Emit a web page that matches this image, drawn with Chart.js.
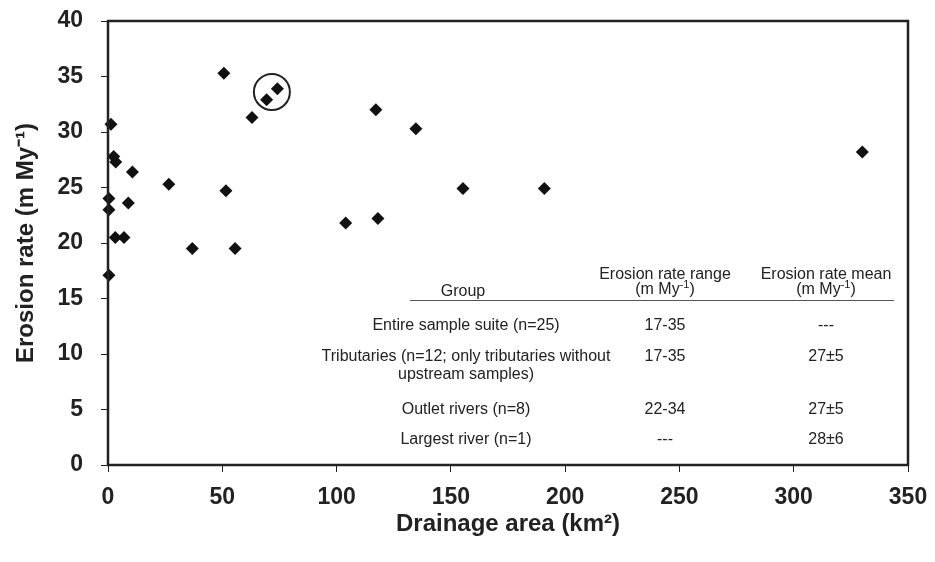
<!DOCTYPE html>
<html>
<head>
<meta charset="utf-8">
<script src="https://cdn.jsdelivr.net/npm/chart.js@4.4.1/dist/chart.umd.min.js"></script>
<style>
  body { margin: 0; background: #fff; }
  #wrap { width: 935px; height: 562px; }
</style>
</head>
<body>
<div id="wrap"><canvas id="erosionChart"></canvas></div>
<script>
// sample values: drainage area (km2) and erosion rate (m/My)
const drainageArea = [0.4, 0.4, 0.4, 1.3, 2.5, 3.4, 3.2, 7.0, 8.9, 10.7, 26.6, 36.9, 50.7,
  51.6, 55.6, 63.0, 69.4, 74.1, 104.0, 117.2, 118.1, 134.7, 155.3, 190.9, 330.0];
const erosionRate = [17.1, 23.0, 24.0, 30.7, 27.8, 27.3, 20.5, 20.5, 23.6, 26.4, 25.3, 19.5, 35.3,
  24.7, 19.5, 31.3, 32.9, 33.9, 21.8, 32.0, 22.2, 30.3, 24.9, 24.9, 28.2];

// the two circled samples (centre of the ring, data units)
const circledCentre = [71.7, 33.6];

// inset table
const groupNames = [
  ['Entire sample suite (n=25)'],
  ['Tributaries (n=12; only tributaries without', 'upstream samples)'],
  ['Outlet rivers (n=8)'],
  ['Largest river (n=1)']
];
const rangeValues = ['17-35', '17-35', '22-34', '---'];
const meanValues = ['---', '27\u00b15', '27\u00b15', '28\u00b16'];

const ink = '#222';
const tableFont = '16px "Liberation Sans", Arial, sans-serif';
const supFont = '11px "Liberation Sans", Arial, sans-serif';

// draw "(m My-1)" with a raised -1, centred on cx
function drawUnit(ctx, cx, y) {
  const parts = [['(m My', false], ['-1', true], [')', false]];
  let total = 0;
  parts.forEach(p => { ctx.font = p[1] ? supFont : tableFont; total += ctx.measureText(p[0]).width; });
  let x = cx - total / 2;
  ctx.textAlign = 'left';
  parts.forEach(p => {
    ctx.font = p[1] ? supFont : tableFont;
    ctx.fillText(p[0], x, p[1] ? y - 6 : y);
    x += ctx.measureText(p[0]).width;
  });
}

const framePlugin = {
  id: 'frame',
  afterDraw(chart) {
    const ctx = chart.ctx;
    const a = chart.chartArea;
    ctx.save();
    // plot box
    ctx.strokeStyle = ink;
    ctx.lineWidth = 2.5;
    ctx.strokeRect(a.left, a.top, a.right - a.left, a.bottom - a.top);

    // ring round the two samples
    const cx = chart.scales.x.getPixelForValue(circledCentre[0]);
    const cy = chart.scales.y.getPixelForValue(circledCentre[1]);
    ctx.lineWidth = 2;
    ctx.beginPath();
    ctx.arc(cx, cy, 18, 0, Math.PI * 2);
    ctx.stroke();

    // table
    const col1 = 466, col2 = 665, col3 = 826;
    ctx.fillStyle = ink;
    ctx.textBaseline = 'alphabetic';
    ctx.font = tableFont;
    ctx.textAlign = 'center';
    ctx.fillText('Group', col1 - 3, 296);
    ctx.fillText('Erosion rate range', col2, 279);
    ctx.fillText('Erosion rate mean', col3, 279);
    drawUnit(ctx, col2, 294);
    drawUnit(ctx, col3, 294);

    ctx.strokeStyle = '#555';
    ctx.lineWidth = 1;
    ctx.beginPath();
    ctx.moveTo(410, 300.5);
    ctx.lineTo(894, 300.5);
    ctx.stroke();

    const rowY = [330, 361, 414, 444];
    ctx.font = tableFont;
    ctx.textAlign = 'center';
    groupNames.forEach((lines, i) => {
      lines.forEach((t, j) => ctx.fillText(t, col1, rowY[i] + j * 18));
      ctx.fillText(rangeValues[i], col2, rowY[i]);
      ctx.fillText(meanValues[i], col3, rowY[i]);
    });
    ctx.restore();
  }
};

const tickFont = { family: '"Liberation Sans", Arial, sans-serif', size: 23, weight: 'bold' };
const titleFont = { family: '"Liberation Sans", Arial, sans-serif', size: 24, weight: 'bold' };

new Chart(document.getElementById('erosionChart'), {
  type: 'scatter',
  data: {
    datasets: [{
      data: drainageArea.map((x, i) => ({ x: x, y: erosionRate[i] })),
      pointStyle: 'rectRot',
      pointRadius: 6.5,
      backgroundColor: '#111',
      borderColor: '#111',
      borderWidth: 0,
      clip: false
    }]
  },
  options: {
    responsive: true,
    maintainAspectRatio: false,
    animation: false,
    layout: { padding: { top: 21, right: 27, left: 0, bottom: 0 } },
    plugins: { legend: { display: false }, tooltip: { enabled: false } },
    scales: {
      x: {
        type: 'linear',
        min: 0,
        max: 350,
        afterFit: s => { s.height = 97; s.paddingLeft = 0; s.paddingRight = 0; },
        ticks: { stepSize: 50, color: ink, font: tickFont, padding: 12 },
        grid: { drawOnChartArea: false, drawTicks: true, tickLength: 7, color: ink },
        border: { display: false },
        title: { display: true, text: 'Drainage area (km\u00b2)', color: ink, font: titleFont, padding: { top: 0, bottom: 23 } }
      },
      y: {
        min: 0,
        max: 40,
        afterFit: s => { s.width = 108; s.paddingTop = 0; s.paddingBottom = 0; },
        ticks: { stepSize: 5, color: ink, font: tickFont, padding: 18 },
        grid: { drawOnChartArea: false, drawTicks: true, tickLength: 7, color: ink },
        border: { display: false },
        title: { display: true, text: 'Erosion rate (m My\u207b\u00b9)', color: ink, font: titleFont, padding: { top: 12, bottom: 0 } }
      }
    }
  },
  plugins: [framePlugin]
});
</script>
</body>
</html>
